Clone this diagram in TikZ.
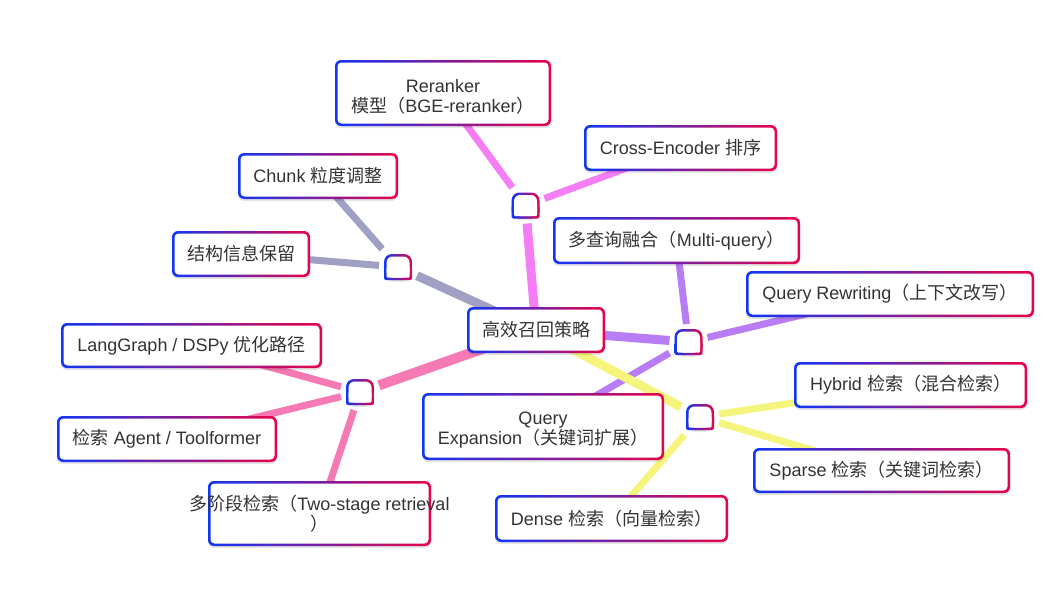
\documentclass[tikz,border=0pt]{standalone}
\usepackage{fontspec}
\setmainfont{Liberation Sans}
\newfontfamily\cjk{Noto Sans CJK SC}
\usetikzlibrary{backgrounds,shadows}
\definecolor{gblue}{RGB}{16,54,246}
\definecolor{gred}{RGB}{232,4,72}
\definecolor{txt}{RGB}{51,51,51}
\definecolor{cPink}{RGB}{245,125,245}
\definecolor{cGray}{RGB}{160,160,196}
\definecolor{cPurple}{RGB}{184,124,245}
\definecolor{cYellow}{RGB}{245,245,125}
\definecolor{cRose}{RGB}{245,122,180}
\tikzset{
  gbox/.style={rectangle, rounded corners=6pt, left color=gblue, right color=gred,
    draw=none, inner sep=0pt, text=txt, font=\fontsize{18}{20}\selectfont, align=center,
    drop shadow={shadow xshift=0pt, shadow yshift=-2pt, opacity=0.10, fill=black},
    path picture={\fill[white, rounded corners=4pt]
      ([shift={(2.5pt,2.5pt)}]path picture bounding box.south west) rectangle
      ([shift={(-2.5pt,-2.5pt)}]path picture bounding box.north east);}},
  jn/.style={rectangle, minimum width=28pt, minimum height=26pt, inner sep=0pt, outer sep=5pt},
  mainedge/.style={line width=9pt},
  leafedge/.style={line width=7pt},
  jshade/.style={left color=gblue, right color=gred},
}
\newcommand\junc[1]{%
  \fill[black, opacity=0.08, rounded corners=8pt] ([shift={(-14pt,-15pt)}]#1.center) rectangle ([shift={(14pt,11pt)}]#1.center);
  \shade[jshade, rounded corners=8pt] ([shift={(-14pt,-13pt)}]#1.center) rectangle ([shift={(14pt,13pt)}]#1.center);
  \shade[jshade, rounded corners=2pt] ([shift={(-14pt,-13pt)}]#1.center) rectangle ([shift={(14pt,0pt)}]#1.center);
  \fill[white, rounded corners=6pt] ([shift={(-11.5pt,-10.5pt)}]#1.center) rectangle ([shift={(11.5pt,10.5pt)}]#1.center);
  \fill[white, rounded corners=1pt] ([shift={(-11.5pt,-10.5pt)}]#1.center) rectangle ([shift={(11.5pt,0pt)}]#1.center);
}
\newcommand\topstrut{\rule{0pt}{20pt}}
\begin{document}
\begin{tikzpicture}[x=1pt,y=-1pt]
\useasboundingbox (0,0) rectangle (1062,589);
% boxes
\node[gbox, minimum width=138pt, minimum height=46pt] (c) at (536,330) {{\cjk 高效召回策略}};
\node[gbox, minimum width=216pt, minimum height=66pt] (rr) at (443,93) {\topstrut Reranker\\{\cjk 模型（}BGE-reranker{\cjk ）}};
\node[gbox, minimum width=193pt, minimum height=46pt] (ce) at (680.5,148) {Cross-Encoder {\cjk 排序}};
\node[gbox, minimum width=160pt, minimum height=46pt] (ch) at (318,176) {Chunk {\cjk 粒度调整}};
\node[gbox, minimum width=138pt, minimum height=46pt] (st) at (241,254) {{\cjk 结构信息保留}};
\node[gbox, minimum width=247pt, minimum height=47pt] (mq) at (676.5,240.5) {{\cjk 多查询融合（}Multi-query{\cjk ）}};
\node[gbox, minimum width=288pt, minimum height=46pt] (qr) at (890,294) {Query Rewriting{\cjk （上下文改写）}};
\node[gbox, minimum width=242pt, minimum height=67pt] (qe) at (543,426.5) {\topstrut Query\\Expansion{\cjk （关键词扩展）}};
\node[gbox, minimum width=233pt, minimum height=47pt] (de) at (611.5,518.5) {Dense {\cjk 检索（向量检索）}};
\node[gbox, minimum width=233pt, minimum height=46pt] (hy) at (910.5,385) {Hybrid {\cjk 检索（混合检索）}};
\node[gbox, minimum width=257pt, minimum height=45pt] (sp) at (881.5,470.5) {Sparse {\cjk 检索（关键词检索）}};
\node[gbox, minimum width=261pt, minimum height=45pt] (lg) at (191.5,345.5) {LangGraph / DSPy {\cjk 优化路径}};
\node[gbox, minimum width=220pt, minimum height=46pt] (ag) at (167,439) {{\cjk 检索} Agent / Toolformer};
\node[gbox, minimum width=223pt, minimum height=65pt] (ms) at (319.5,513.5) {\makebox[0pt]{{\cjk 多阶段检索（}Two-stage retrieval}\\\makebox[0pt]{\cjk ）}};
% junctions
\node[jn] (jR) at (525.5,205.5) {};
\node[jn] (jC) at (398,267) {};
\node[jn] (jQ) at (688.5,342) {};
\node[jn] (jM) at (360,392) {};
\node[jn] (jH) at (700,417) {};
\junc{jR}\junc{jC}\junc{jQ}\junc{jM}\junc{jH}
% edges
\begin{pgfonlayer}{background}
\fill[white] (0,0) rectangle (1062,589);
\draw[mainedge, cPink] (c.center) -- (jR);
\draw[leafedge, cPink] (jR) -- (rr.center);
\draw[leafedge, cPink] (jR) -- (ce.center);
\draw[mainedge, cGray] (c.center) -- (jC);
\draw[leafedge, cGray] (jC) -- (ch.center);
\draw[leafedge, cGray] (jC) -- (st.center);
\draw[mainedge, cPurple] (c.center) -- (jQ);
\draw[leafedge, cPurple] (jQ) -- (mq.center);
\draw[leafedge, cPurple] (jQ) -- (qr.center);
\draw[leafedge, cPurple] (jQ) -- (qe.center);
\draw[mainedge, cYellow] (c.center) -- (jH);
\draw[leafedge, cYellow] (jH) -- (hy.center);
\draw[leafedge, cYellow] (jH) -- (sp.center);
\draw[leafedge, cYellow] (jH) -- (de.center);
\draw[mainedge, line width=10pt, cRose] (c.center) -- (jM);
\draw[leafedge, cRose] (jM) -- (lg.center);
\draw[leafedge, cRose] (jM) -- (ag.center);
\draw[leafedge, cRose] (jM) -- (ms.center);
\end{pgfonlayer}
\end{tikzpicture}
\end{document}
